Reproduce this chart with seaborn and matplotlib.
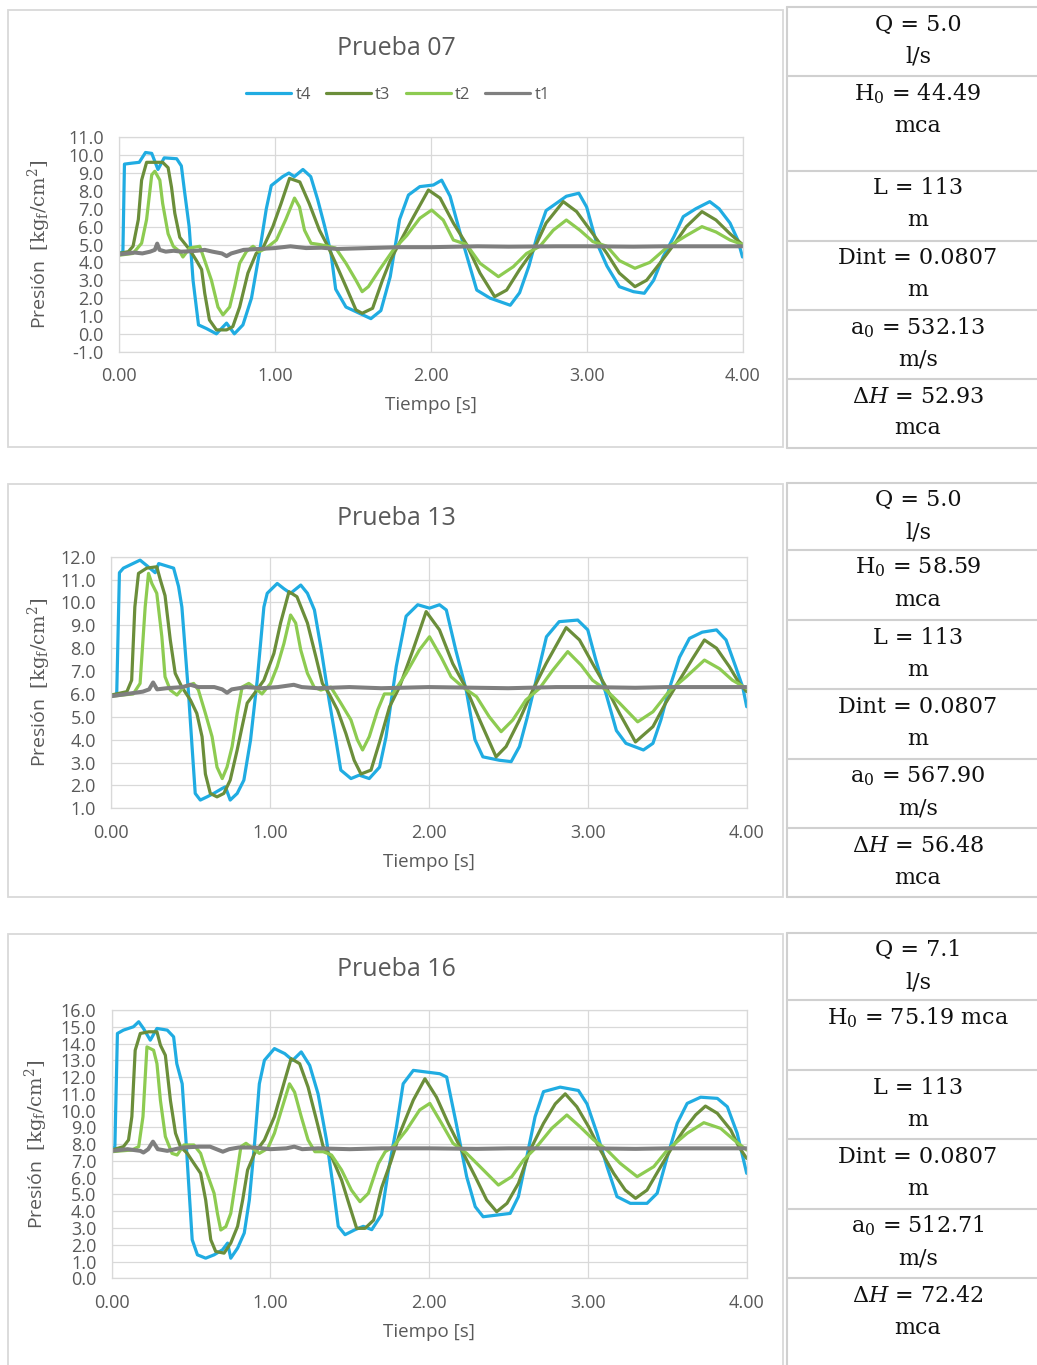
import numpy as np
import pandas as pd
import seaborn as sns
import matplotlib.pyplot as plt
from matplotlib.lines import Line2D
from matplotlib.patches import Rectangle

# ---------------- datos ----------------
series = ['t4', 't3', 't2', 't1']
colores = ['#20ACE2', '#6B8E3A', '#8DCB51', '#7F7F7F']
x_ticks = [0, 1, 2, 3, 4]

# Prueba 07
p07_t4_t = [0, 0.025, 0.035, 0.08, 0.13, 0.17, 0.21, 0.25, 0.29, 0.37, 0.40, 0.42, 0.45, 0.475, 0.51, 0.56,
            0.625, 0.69, 0.74, 0.795, 0.85, 0.9, 0.945, 0.977, 1.05, 1.09, 1.125, 1.18, 1.23, 1.275, 1.32,
            1.36, 1.39, 1.456, 1.53, 1.616, 1.68, 1.74, 1.80, 1.857, 1.93, 2.017, 2.07, 2.124, 2.19, 2.24,
            2.295, 2.38, 2.51, 2.57, 2.63, 2.68, 2.74, 2.87, 2.95, 3.0, 3.06, 3.13, 3.21, 3.30, 3.37, 3.43,
            3.49, 3.56, 3.62, 3.70, 3.79, 3.85, 3.92, 3.97, 4.0]
p07_t4_p = [4.5, 4.6, 9.5, 9.55, 9.6, 10.15, 10.1, 9.2, 9.85, 9.8, 9.4, 8.0, 6.0, 3.0, 0.5, 0.3,
            0.0, 0.6, 0.0, 0.5, 2.0, 4.5, 7.0, 8.3, 8.8, 9.0, 8.8, 9.2, 8.8, 7.5, 6.0,
            4.5, 2.5, 1.5, 1.2, 0.85, 1.3, 3.2, 6.4, 7.77, 8.24, 8.33, 8.6, 7.7, 5.6, 4.1,
            2.45, 2.0, 1.6, 2.3, 3.8, 5.4, 6.9, 7.7, 7.87, 7.1, 5.2, 3.8, 2.64, 2.36, 2.27, 3.0,
            4.3, 5.44, 6.56, 7.0, 7.4, 7.0, 6.2, 5.25, 4.3]
p07_t3_t = [0, 0.06, 0.09, 0.124, 0.145, 0.177, 0.28, 0.315, 0.337, 0.358, 0.39, 0.454, 0.497, 0.53, 0.55,
            0.58, 0.625, 0.69, 0.73, 0.774, 0.827, 0.88, 0.923, 0.987, 1.04, 1.094, 1.16, 1.22, 1.286, 1.34,
            1.39, 1.456, 1.52, 1.56, 1.627, 1.69, 1.74, 1.80, 1.89, 1.985, 2.06, 2.145, 2.23, 2.316, 2.41,
            2.487, 2.57, 2.66, 2.74, 2.85, 2.936, 3.04, 3.13, 3.21, 3.31, 3.385, 3.47, 3.56, 3.64, 3.74,
            3.83, 3.92, 4.0]
p07_t3_p = [4.5, 4.6, 4.9, 6.4, 8.6, 9.6, 9.6, 9.3, 8.2, 6.75, 5.4, 4.7, 4.1, 3.6, 2.27,
            0.78, 0.22, 0.22, 0.4, 1.5, 3.4, 4.5, 4.8, 6.0, 7.3, 8.7, 8.5, 7.3, 5.8, 4.9,
            3.95, 2.64, 1.34, 1.15, 1.43, 3.0, 4.1, 5.1, 6.56, 8.05, 7.6, 6.2, 5.0, 3.4, 2.08,
            2.45, 3.6, 4.7, 6.2, 7.4, 6.84, 5.6, 4.5, 3.4, 2.64, 3.0, 3.95, 5.0, 6.0, 6.84,
            6.37, 5.6, 5.0]
p07_t2_t = [0, 0.09, 0.145, 0.177, 0.21, 0.23, 0.262, 0.28, 0.315, 0.348, 0.39, 0.41, 0.454, 0.518, 0.55,
            0.593, 0.635, 0.667, 0.71, 0.742, 0.774, 0.817, 0.86, 0.9, 0.945, 1.01, 1.07, 1.126, 1.158, 1.19,
            1.232, 1.286, 1.34, 1.39, 1.456, 1.52, 1.56, 1.6, 1.67, 1.76, 1.846, 1.93, 2.006, 2.08, 2.145,
            2.23, 2.316, 2.434, 2.53, 2.615, 2.7, 2.786, 2.87, 2.957, 3.04, 3.13, 3.21, 3.31, 3.406, 3.51,
            3.64, 3.74, 3.83, 3.92, 4.0]
p07_t2_p = [4.4, 4.5, 5.07, 6.4, 8.9, 9.1, 8.6, 7.3, 5.6, 4.9, 4.6, 4.3, 4.8, 4.9, 4.1,
            3.0, 1.5, 1.06, 1.5, 2.64, 3.95, 4.6, 4.9, 4.6, 4.8, 5.25, 6.4, 7.6, 7.1, 5.8,
            5.07, 5.0, 4.9, 4.8, 3.95, 3.0, 2.36, 2.64, 3.57, 4.7, 5.5, 6.47, 6.93, 6.37, 5.25,
            5.0, 3.95, 3.2, 3.76, 4.5, 4.9, 5.8, 6.37, 5.8, 5.16, 4.9, 4.1, 3.67, 4.0, 4.8,
            5.5, 6.0, 5.7, 5.25, 5.0]
p07_t1_t = [0, 0.05, 0.1, 0.15, 0.2, 0.23, 0.245, 0.26, 0.3, 0.35, 0.4, 0.45, 0.5, 0.55, 0.6, 0.66, 0.69,
            0.72, 0.8, 0.9, 1.0, 1.1, 1.2, 1.3, 1.4, 1.6, 1.8, 2.0, 2.3, 2.5, 2.8, 3.0, 3.3, 3.5, 3.8, 4.0]
p07_t1_p = [4.45, 4.5, 4.55, 4.5, 4.6, 4.7, 5.05, 4.7, 4.6, 4.65, 4.6, 4.62, 4.65, 4.7, 4.6, 4.5, 4.35,
            4.5, 4.7, 4.75, 4.8, 4.9, 4.8, 4.82, 4.75, 4.8, 4.85, 4.85, 4.9, 4.88, 4.9, 4.9, 4.88, 4.9, 4.9, 4.9]

# Prueba 13
p13_t4_t = [0, 0.036, 0.053, 0.078, 0.183, 0.236, 0.278, 0.3, 0.394, 0.425, 0.446, 0.467, 0.488, 0.51, 0.53,
            0.562, 0.604, 0.646, 0.7, 0.72, 0.75, 0.794, 0.836, 0.878, 0.92, 0.962, 0.983, 1.046, 1.088, 1.13,
            1.194, 1.236, 1.28, 1.32, 1.373, 1.415, 1.446, 1.51, 1.562, 1.625, 1.69, 1.73, 1.795, 1.857, 1.93,
            2.004, 2.067, 2.11, 2.17, 2.235, 2.29, 2.34, 2.444, 2.518, 2.57, 2.62, 2.675, 2.74, 2.82, 2.937,
            3.0, 3.05, 3.115, 3.18, 3.24, 3.35, 3.41, 3.46, 3.51, 3.577, 3.64, 3.72, 3.81, 3.87, 3.93, 3.975, 4.0]
p13_t4_p = [5.9, 6.0, 11.3, 11.5, 11.85, 11.55, 11.3, 11.7, 11.5, 10.7, 9.8, 7.9, 6.0, 3.7, 1.65,
            1.36, 1.5, 1.65, 1.87, 1.94, 1.36, 1.65, 2.23, 3.98, 6.6, 9.8, 10.4, 10.83, 10.6, 10.4,
            10.76, 10.4, 9.67, 8.06, 5.7, 4.0, 2.67, 2.3, 2.45, 2.3, 2.8, 4.1, 7.2, 9.4, 9.9,
            9.75, 9.9, 9.67, 7.9, 6.17, 4.0, 3.25, 3.1, 3.04, 3.7, 5.0, 6.6, 8.5, 9.16, 9.23,
            8.8, 7.5, 6.0, 4.4, 3.84, 3.55, 3.84, 4.86, 6.17, 7.6, 8.43, 8.7, 8.8, 8.36, 7.2, 6.3, 5.44]
p13_t3_t = [0, 0.1, 0.13, 0.15, 0.173, 0.225, 0.288, 0.31, 0.34, 0.373, 0.404, 0.446, 0.5, 0.54, 0.573,
            0.594, 0.625, 0.667, 0.71, 0.75, 0.794, 0.825, 0.857, 0.9, 0.962, 1.025, 1.067, 1.12, 1.17, 1.236,
            1.29, 1.33, 1.373, 1.425, 1.478, 1.53, 1.573, 1.636, 1.69, 1.753, 1.815, 1.9, 1.983, 2.067, 2.15,
            2.235, 2.32, 2.423, 2.486, 2.57, 2.654, 2.738, 2.864, 2.948, 3.03, 3.115, 3.2, 3.30, 3.41, 3.49,
            3.577, 3.66, 3.734, 3.81, 3.89, 3.954, 4.0]
p13_t3_p = [5.95, 6.1, 6.6, 9.8, 11.27, 11.5, 11.56, 11.0, 10.3, 8.36, 6.9, 6.3, 5.73, 5.15, 4.13,
            2.5, 1.65, 1.5, 1.65, 2.23, 3.55, 4.57, 5.6, 6.0, 6.6, 7.77, 9.1, 10.47, 10.25, 9.1,
            7.6, 6.46, 6.0, 5.3, 4.27, 3.1, 2.5, 2.67, 3.9, 5.44, 6.3, 7.92, 9.6, 8.8, 7.33,
            6.24, 4.86, 3.25, 3.7, 4.86, 6.17, 7.33, 8.9, 8.36, 7.33, 6.3, 5.15, 3.9, 4.57, 5.6,
            6.6, 7.55, 8.36, 8.0, 7.2, 6.46, 6.1]
p13_t2_t = [0, 0.14, 0.183, 0.215, 0.236, 0.257, 0.288, 0.32, 0.34, 0.373, 0.415, 0.457, 0.52, 0.55, 0.594,
            0.636, 0.667, 0.7, 0.73, 0.762, 0.794, 0.825, 0.867, 0.91, 0.95, 1.004, 1.046, 1.088, 1.13, 1.162,
            1.194, 1.236, 1.278, 1.32, 1.383, 1.446, 1.51, 1.55, 1.583, 1.625, 1.678, 1.72, 1.773, 1.857, 1.94,
            2.004, 2.078, 2.14, 2.214, 2.3, 2.38, 2.455, 2.528, 2.61, 2.696, 2.78, 2.874, 2.958, 3.03, 3.115,
            3.2, 3.314, 3.41, 3.51, 3.62, 3.734, 3.83, 3.91, 4.0]
p13_t2_p = [5.9, 6.0, 6.46, 9.8, 11.27, 10.83, 10.4, 8.5, 6.75, 6.17, 5.95, 6.3, 6.46, 6.17, 5.15,
            4.13, 2.8, 2.3, 2.8, 3.7, 5.15, 6.3, 6.46, 6.24, 6.0, 6.46, 7.2, 8.2, 9.45, 9.1,
            7.92, 6.9, 6.3, 6.17, 6.3, 5.6, 4.86, 4.0, 3.55, 4.13, 5.3, 6.0, 6.0, 6.9, 7.92,
            8.5, 7.6, 6.75, 6.3, 5.88, 5.0, 4.35, 4.86, 5.73, 6.24, 7.04, 7.85, 7.26, 6.6, 6.17,
            5.6, 4.78, 5.22, 6.1, 6.75, 7.48, 7.1, 6.6, 6.24]
p13_t1_t = [0, 0.05, 0.1, 0.15, 0.2, 0.24, 0.265, 0.29, 0.35, 0.45, 0.5, 0.55, 0.65, 0.7, 0.73, 0.76,
            0.85, 0.95, 1.05, 1.15, 1.2, 1.3, 1.5, 1.7, 2.0, 2.3, 2.5, 2.8, 3.0, 3.3, 3.5, 3.8, 4.0]
p13_t1_p = [5.9, 5.95, 6.0, 6.05, 6.1, 6.2, 6.5, 6.2, 6.25, 6.3, 6.4, 6.3, 6.3, 6.2, 6.05, 6.2,
            6.3, 6.25, 6.3, 6.4, 6.3, 6.25, 6.3, 6.25, 6.3, 6.27, 6.25, 6.3, 6.3, 6.27, 6.3, 6.3, 6.3]

# Prueba 16
p16_t4_t = [0, 0.02, 0.036, 0.074, 0.137, 0.17, 0.2, 0.243, 0.285, 0.35, 0.39, 0.41, 0.444, 0.465, 0.486,
            0.507, 0.54, 0.592, 0.645, 0.698, 0.73, 0.75, 0.793, 0.835, 0.867, 0.9, 0.93, 0.962, 1.025, 1.09,
            1.14, 1.194, 1.247, 1.3, 1.353, 1.395, 1.427, 1.47, 1.533, 1.585, 1.638, 1.70, 1.74, 1.794, 1.836,
            1.9, 1.983, 2.067, 2.11, 2.17, 2.236, 2.29, 2.34, 2.425, 2.51, 2.562, 2.615, 2.667, 2.72, 2.825,
            2.94, 2.994, 3.057, 3.12, 3.183, 3.267, 3.372, 3.436, 3.5, 3.562, 3.625, 3.71, 3.815, 3.878, 3.94, 4.0]
p16_t4_p = [7.65, 7.85, 14.6, 14.8, 15.0, 15.3, 14.9, 14.2, 14.9, 14.8, 14.4, 12.8, 11.6, 8.65, 5.46,
            2.3, 1.4, 1.2, 1.4, 1.7, 2.1, 1.2, 1.8, 2.7, 4.67, 8.05, 11.6, 13.0, 13.7, 13.4,
            13.0, 13.5, 12.7, 11.0, 8.25, 5.46, 3.1, 2.6, 2.9, 3.1, 2.9, 3.8, 6.26, 9.04, 11.6,
            12.4, 12.3, 12.2, 12.0, 9.24, 6.06, 4.27, 3.67, 3.77, 3.87, 4.87, 7.25, 9.64, 11.13, 11.4,
            11.2, 10.4, 8.65, 6.66, 4.87, 4.47, 4.47, 5.07, 7.25, 9.24, 10.43, 10.8, 10.73, 10.23, 8.65, 6.26]
p16_t3_t = [0, 0.074, 0.106, 0.127, 0.148, 0.18, 0.233, 0.285, 0.307, 0.338, 0.37, 0.402, 0.433, 0.476, 0.518,
            0.56, 0.592, 0.624, 0.655, 0.708, 0.75, 0.793, 0.825, 0.856, 0.9, 0.962, 1.025, 1.09, 1.13, 1.184,
            1.237, 1.29, 1.332, 1.385, 1.448, 1.5, 1.543, 1.596, 1.65, 1.70, 1.76, 1.815, 1.9, 1.973, 2.046,
            2.12, 2.204, 2.29, 2.362, 2.425, 2.49, 2.562, 2.636, 2.72, 2.794, 2.857, 2.93, 3.004, 3.078, 3.162,
            3.235, 3.3, 3.372, 3.446, 3.52, 3.604, 3.678, 3.74, 3.815, 3.9, 3.95, 4.0]
p16_t3_p = [7.65, 7.85, 8.25, 9.64, 13.6, 14.6, 14.7, 14.7, 13.9, 13.3, 10.6, 8.65, 7.85, 7.45, 6.85,
            6.26, 4.67, 2.3, 1.6, 1.5, 2.1, 3.1, 4.67, 6.46, 7.45, 8.25, 9.64, 11.8, 13.1, 12.8,
            11.4, 9.44, 7.85, 7.25, 5.86, 4.27, 2.98, 2.98, 3.47, 5.4, 7.0, 8.65, 10.63, 11.9, 10.8,
            9.24, 7.65, 6.06, 4.67, 3.97, 4.47, 5.66, 7.65, 9.24, 10.4, 11.0, 10.23, 9.04, 7.65, 6.26,
            5.26, 4.77, 5.26, 6.46, 7.65, 8.84, 9.74, 10.27, 9.84, 8.84, 7.85, 7.15]
p16_t2_t = [0, 0.127, 0.17, 0.197, 0.222, 0.243, 0.264, 0.285, 0.307, 0.338, 0.38, 0.412, 0.455, 0.518, 0.56,
            0.6, 0.645, 0.666, 0.687, 0.719, 0.75, 0.782, 0.814, 0.846, 0.888, 0.93, 0.983, 1.025, 1.068, 1.12,
            1.152, 1.194, 1.237, 1.28, 1.332, 1.385, 1.448, 1.51, 1.564, 1.617, 1.68, 1.723, 1.773, 1.857, 1.94,
            2.004, 2.078, 2.15, 2.236, 2.32, 2.436, 2.52, 2.594, 2.678, 2.772, 2.867, 2.95, 3.036, 3.12, 3.204,
            3.31, 3.415, 3.5, 3.625, 3.73, 3.836, 3.92, 4.0]
p16_t2_p = [7.55, 7.65, 7.85, 9.64, 13.8, 13.7, 13.6, 12.8, 10.6, 8.45, 7.45, 7.35, 7.95, 7.95, 7.45,
            6.26, 5.07, 3.87, 2.88, 3.08, 3.87, 5.86, 7.85, 8.05, 7.75, 7.45, 7.75, 8.65, 10.0, 11.6,
            11.1, 9.64, 8.25, 7.55, 7.55, 7.35, 6.46, 5.26, 4.57, 5.07, 6.85, 7.55, 7.85, 8.84, 10.04,
            10.43, 9.24, 8.05, 7.45, 6.66, 5.56, 6.06, 7.05, 7.85, 8.94, 9.74, 9.04, 8.25, 7.65, 6.85,
            6.06, 6.66, 7.65, 8.65, 9.28, 8.94, 8.25, 7.65]
p16_t1_t = [0, 0.05, 0.1, 0.18, 0.2, 0.23, 0.26, 0.29, 0.35, 0.45, 0.55, 0.62, 0.66, 0.7, 0.74, 0.8,
            0.9, 1.0, 1.1, 1.15, 1.2, 1.3, 1.5, 1.7, 2.0, 2.3, 2.5, 2.8, 3.0, 3.3, 3.5, 3.8, 4.0]
p16_t1_p = [7.6, 7.65, 7.7, 7.6, 7.5, 7.7, 8.15, 7.7, 7.6, 7.8, 7.85, 7.85, 7.7, 7.55, 7.7, 7.8,
            7.8, 7.7, 7.75, 7.85, 7.7, 7.75, 7.7, 7.75, 7.75, 7.72, 7.75, 7.75, 7.75, 7.72, 7.75, 7.75, 7.75]

# tablas de parametros
tabla_07 = [("Q = 5.0", "l/s"), (r"$\mathrm{H}_0$ = 44.49", "mca"), ("L = 113", "m"),
            ("Dint = 0.0807", "m"), (r"$\mathrm{a}_0$ = 532.13", "m/s"), (r"$\Delta H$ = 52.93", "mca")]
tabla_13 = [("Q = 5.0", "l/s"), (r"$\mathrm{H}_0$ = 58.59", "mca"), ("L = 113", "m"),
            ("Dint = 0.0807", "m"), (r"$\mathrm{a}_0$ = 567.90", "m/s"), (r"$\Delta H$ = 56.48", "mca")]
tabla_16 = [("Q = 7.1", "l/s"), (r"$\mathrm{H}_0$ = 75.19 mca", ""), ("L = 113", "m"),
            ("Dint = 0.0807", "m"), (r"$\mathrm{a}_0$ = 512.71", "m/s"), (r"$\Delta H$ = 72.42", "mca")]


def armar_df(curvas):
    frames = []
    for nombre, (t, p) in zip(series, curvas):
        assert len(t) == len(p), nombre
        frames.append(pd.DataFrame({'t': t, 'p': p, 'serie': nombre}))
    return pd.concat(frames, ignore_index=True)


df07 = armar_df([(p07_t4_t, p07_t4_p), (p07_t3_t, p07_t3_p), (p07_t2_t, p07_t2_p), (p07_t1_t, p07_t1_p)])
df13 = armar_df([(p13_t4_t, p13_t4_p), (p13_t3_t, p13_t3_p), (p13_t2_t, p13_t2_p), (p13_t1_t, p13_t1_p)])
df16 = armar_df([(p16_t4_t, p16_t4_p), (p16_t3_t, p16_t3_p), (p16_t2_t, p16_t2_p), (p16_t1_t, p16_t1_p)])

# ---------------- estilo ----------------
sns.set_style("white")
plt.rcParams['font.family'] = ['Open Sans', 'DejaVu Sans']
plt.rcParams['mathtext.fontset'] = 'dejavuserif'
gris_txt = '#595959'
gris_linea = '#D9D9D9'

W, H = 1037, 1365
fig = plt.figure(figsize=(W / 100, H / 100), dpi=100)


def fx(x):
    return x / W


def fy(y):
    return 1 - y / H


# layout de cada panel (pixeles)
paneles = [
    dict(df=df07, titulo="Prueba 07", tabla=tabla_07, ax=(119, 137.3, 742.5, 351.7), ylim=(-1, 11),
         caja=(8, 10, 783, 447), tit_y=55, filas=[7, 76, 171, 241, 310, 379, 448], ylab_x=53, leyenda=True),
    dict(df=df13, titulo="Prueba 13", tabla=tabla_13, ax=(111, 556.7, 746.7, 808.3), ylim=(1, 12),
         caja=(8, 484, 783, 897), tit_y=525, filas=[482.7, 550, 620, 689.3, 758.7, 828, 897.3], ylab_x=53,
         leyenda=False),
    dict(df=df16, titulo="Prueba 16", tabla=tabla_16, ax=(111.7, 1010, 746.7, 1278.3), ylim=(0, 16),
         caja=(8, 934, 783, 1380), tit_y=976, filas=[932.7, 1000, 1070, 1139.3, 1208.7, 1278], ylab_x=50,
         leyenda=False),
]

for pan in paneles:
    # caja del grafico
    x0, y0, x1, y1 = pan['caja']
    fig.add_artist(Rectangle((fx(x0), fy(y1)), (x1 - x0) / W, (y1 - y0) / H, transform=fig.transFigure,
                             fill=False, ec=gris_linea, lw=1.3))

    a0, b0, a1, b1 = pan['ax']
    ax = fig.add_axes([fx(a0), fy(b1), (a1 - a0) / W, (b1 - b0) / H])
    sns.lineplot(data=pan['df'], x='t', y='p', hue='serie', hue_order=series, palette=colores,
                 estimator=None, sort=False, linewidth=2.3, legend=False, ax=ax)
    for ln in ax.lines:
        ln.set_solid_joinstyle('round')
    ax.lines[3].set_linewidth(2.9)

    lo, hi = pan['ylim']
    yt = np.arange(lo, hi + 0.5, 1)
    ax.set_xlim(0, 4)
    ax.set_ylim(lo, hi)
    ax.set_yticks(yt)
    ax.set_yticklabels([f"{v:.1f}" for v in yt])
    ax.set_xticks(x_ticks)
    ax.set_xticklabels([f"{v:.2f}" for v in x_ticks])
    ax.grid(True, color=gris_linea, lw=0.9)
    ax.set_axisbelow(True)
    for s in ax.spines.values():
        s.set_color(gris_linea)
        s.set_linewidth(0.9)
    ax.tick_params(length=0, labelsize=13, colors=gris_txt)
    ax.tick_params(axis='y', pad=11)
    ax.tick_params(axis='x', pad=11)
    ax.set_xlabel("Tiempo [s]", fontsize=13.5, color=gris_txt, labelpad=8)
    ax.set_ylabel(r"Presión  $[\mathrm{kg_f/cm^2}]$", fontsize=14, color=gris_txt)
    ax.yaxis.set_label_coords((pan['ylab_x'] - a0) / (a1 - a0), 0.5)

    fig.text(fx(396), fy(pan['tit_y']), pan['titulo'], ha='center', va='baseline', fontsize=18,
             color=gris_txt)

    if pan['leyenda']:
        handles = [Line2D([], [], color=c, lw=2.3) for c in colores]
        ax.legend(handles, series, loc='center', bbox_to_anchor=(fx(398), fy(95)),
                  bbox_transform=fig.transFigure, ncol=4, frameon=False, fontsize=12,
                  handlelength=2.7, handletextpad=0.25, columnspacing=0.9, labelcolor=gris_txt)

    # tabla de parametros
    filas = pan['filas']
    fig.add_artist(Line2D([fx(787), fx(787)], [fy(filas[0]), fy(filas[-1] if len(filas) == 7 else H)],
                          transform=fig.transFigure, color='#D0D0D0', lw=1.5))
    for yl in filas:
        fig.add_artist(Line2D([fx(787), 1], [fy(yl), fy(yl)], transform=fig.transFigure,
                              color='#D0D0D0', lw=1.5))
    for i, (l1, l2) in enumerate(pan['tabla']):
        top = filas[i]
        fig.text(fx(918), fy(top + 17.5), l1, ha='center', va='center', fontsize=16,
                 family='DejaVu Serif', color='#111111')
        if l2:
            fig.text(fx(918), fy(top + 49.5), l2, ha='center', va='center', fontsize=16,
                     family='DejaVu Serif', color='#111111')

fig.savefig('out.png', dpi=100)
